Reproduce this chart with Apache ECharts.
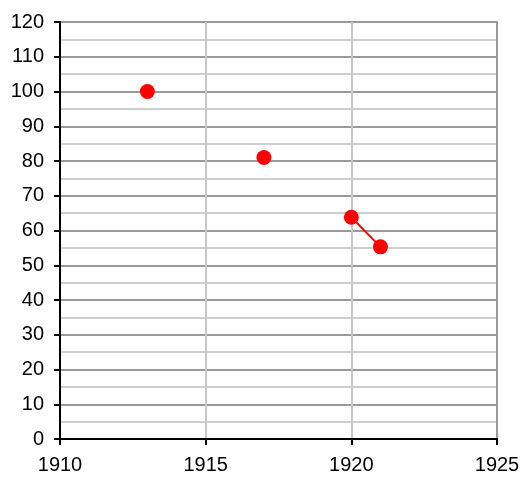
<!DOCTYPE html>
<html>
<head>
<meta charset="utf-8">
<script src="https://cdn.jsdelivr.net/npm/echarts@6/dist/echarts.min.js"></script>
<style>html,body{margin:0;padding:0;background:#fff}#c{width:523px;height:479px}</style>
</head>
<body>
<div id="c"></div>
<script>
var years = [1913, 1914, 1915, 1916, 1917, 1918, 1919, 1920, 1921];
var values = [100, null, null, null, 81, null, null, 63.8, 55.3];
var xTicks = [1910, 1915, 1920, 1925];
var yTicks = [0, 10, 20, 30, 40, 50, 60, 70, 80, 90, 100, 110, 120];

var chart = echarts.init(document.getElementById('c'));
var font = '"Liberation Sans", Arial, sans-serif';
chart.setOption({
  animation: false,
  grid: {left: 60, right: 26, top: 22, bottom: 40},
  xAxis: {
    type: 'value', min: xTicks[0], max: xTicks[xTicks.length - 1], interval: 5,
    axisLine: {show: true, onZero: false, lineStyle: {color: '#000', width: 2}},
    axisTick: {show: true, length: 6, lineStyle: {color: '#000', width: 2}},
    axisLabel: {color: '#000', fontSize: 20, fontFamily: font, margin: 16,
      formatter: function (v) { return String(v); }},
    splitLine: {show: true, lineStyle: {color: '#c8c8c8', width: 2}}
  },
  yAxis: [{
    type: 'value', min: yTicks[0], max: yTicks[yTicks.length - 1], interval: 10,
    axisLine: {show: true, lineStyle: {color: '#000', width: 2}},
    axisTick: {show: true, length: 6, lineStyle: {color: '#000', width: 2}},
    axisLabel: {color: '#000', fontSize: 20, fontFamily: font, margin: 16},
    splitLine: {show: true, lineStyle: {color: '#999', width: 2}},
    minorTick: {show: false, splitNumber: 2},
    minorSplitLine: {show: true, lineStyle: {color: '#cfcfcf', width: 2}}
  }, {
    type: 'value', position: 'right', min: 0, max: 120, interval: 10,
    axisLine: {show: true, lineStyle: {color: '#999', width: 2}},
    axisTick: {show: false}, axisLabel: {show: false}, splitLine: {show: false}
  }],
  series: [{
    type: 'line',
    data: years.map(function (y, i) { return [y, values[i]]; }),
    connectNulls: false,
    symbol: 'circle', symbolSize: 15,
    itemStyle: {color: '#ff0000'},
    lineStyle: {color: '#ff0000', width: 2}
  }]
});
</script>
</body>
</html>
